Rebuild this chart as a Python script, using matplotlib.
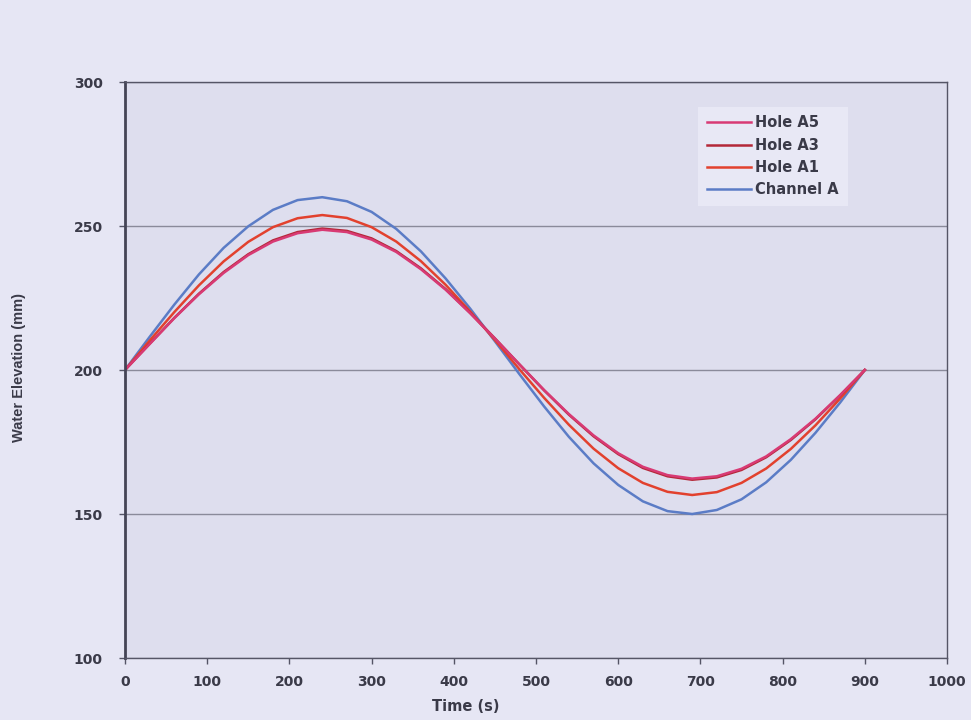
import matplotlib
matplotlib.use("Agg")
import matplotlib.pyplot as plt

# time axis (s) and water elevations (mm)
time_s = [0, 30, 60, 90, 120, 150, 180, 210, 240, 270, 300, 330, 360, 390, 420,
          450, 480, 510, 540, 570, 600, 630, 660, 690, 720, 750, 780, 810, 840,
          870, 900]

hole_a5 = [200.0, 209.0, 218.0, 226.3, 233.7, 239.9, 244.6, 247.5, 248.7, 247.9,
           245.3, 241.0, 235.0, 227.9, 219.7, 210.9, 201.9, 193.0, 184.7, 177.3,
           171.1, 166.4, 163.5, 162.3, 163.1, 165.7, 170.0, 176.0, 183.1, 191.3,
           200.0]
hole_a3 = [200.0, 209.1, 218.1, 226.5, 234.0, 240.2, 245.0, 247.9, 249.1, 248.3,
           245.7, 241.3, 235.3, 228.1, 219.8, 211.0, 201.9, 192.9, 184.5, 177.0,
           170.8, 166.0, 163.1, 161.9, 162.7, 165.3, 169.7, 175.7, 182.9, 191.2,
           200.0]
hole_a1 = [200.0, 210.2, 220.1, 229.4, 237.7, 244.5, 249.6, 252.7, 253.8, 252.8,
           249.6, 244.6, 237.8, 229.6, 220.3, 210.4, 200.2, 190.3, 181.0, 172.7,
           165.9, 160.8, 157.7, 156.6, 157.6, 160.8, 165.8, 172.6, 180.8, 190.1,
           200.0]
channel_a = [200.0, 211.5, 222.7, 233.2, 242.4, 249.9, 255.6, 259.0, 260.0, 258.6,
             254.9, 249.0, 241.2, 231.8, 221.3, 210.0, 198.5, 187.3, 176.8, 167.6,
             160.1, 154.4, 151.0, 150.0, 151.4, 155.1, 161.0, 168.8, 178.2, 188.7,
             200.0]

series = [("Hole A5", hole_a5, "#d83a74"),
          ("Hole A3", hole_a3, "#b42838"),
          ("Hole A1", hole_a1, "#e2412e"),
          ("Channel A", channel_a, "#5b7cc6")]

x_ticks = [0, 100, 200, 300, 400, 500, 600, 700, 800, 900, 1000]
y_ticks = [100, 150, 200, 250, 300]

plt.rcParams["font.family"] = ["DejaVu Sans"]
text_col = "#3a3a48"

fig = plt.figure(figsize=(9.71, 7.2), dpi=100, facecolor="#e6e6f4")
ax = fig.add_axes([0.1287, 0.0861, 0.8466, 0.8000])
ax.set_facecolor("#dedeee")

# draw from back to front so the holes sit over the channel
for label, values, colour in reversed(series):
    ax.plot(time_s, values, color=colour, lw=1.8, label=label)

ax.set_xlim(0, 1000)
ax.set_ylim(100, 300)
ax.set_xticks(x_ticks)
ax.set_yticks(y_ticks)
ax.yaxis.grid(True, color="#8a8a9a", lw=1.0)
ax.set_axisbelow(True)

for side in ("top", "right", "bottom"):
    ax.spines[side].set_color("#555566")
    ax.spines[side].set_linewidth(1.0)
ax.spines["left"].set_color("#444455")
ax.spines["left"].set_linewidth(2.0)

ax.tick_params(axis="both", direction="out", length=4, width=1,
               color="#555566", labelcolor=text_col, labelsize=10)
ax.tick_params(axis="y", pad=12)
ax.tick_params(axis="x", pad=8)
for lbl in ax.get_xticklabels() + ax.get_yticklabels():
    lbl.set_fontweight("bold")

ax.set_xlabel("Time (s)", fontsize=10.5, fontweight="bold", color=text_col)
ax.xaxis.set_label_coords(0.415, -0.072)
ax.set_ylabel("Water Elevation (mm)", fontsize=10.5, fontweight="bold",
              color=text_col,
              family=["Liberation Sans Narrow", "Liberation Sans", "DejaVu Sans"])
ax.yaxis.set_label_coords(-0.12, 0.505)

handles, labels = ax.get_legend_handles_labels()
leg = ax.legend(handles[::-1], labels[::-1], loc="upper right",
                bbox_to_anchor=(0.888, 0.97), frameon=True, fancybox=False,
                handlelength=3.0, handletextpad=0.3, labelspacing=0.5,
                borderpad=0.6, prop={"size": 10.5, "weight": "bold"})
leg.get_frame().set_facecolor("#e8e8f5")
leg.get_frame().set_edgecolor("none")
leg.get_frame().set_alpha(1.0)
for t in leg.get_texts():
    t.set_color(text_col)

fig.savefig("out.png", dpi=100, facecolor=fig.get_facecolor())
